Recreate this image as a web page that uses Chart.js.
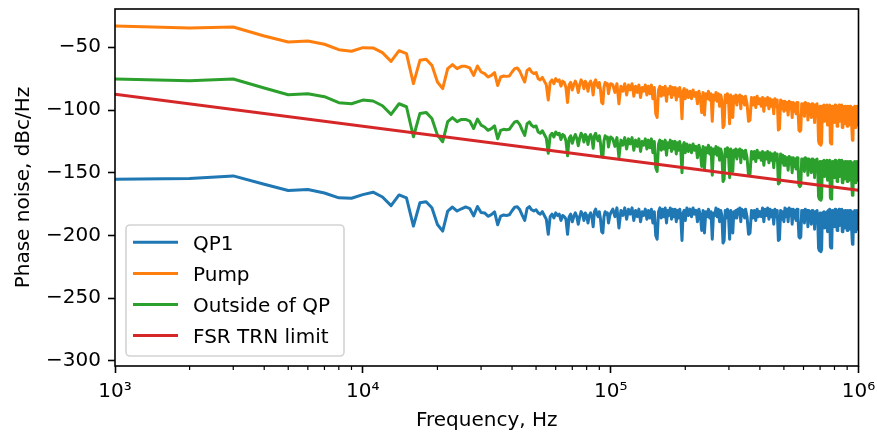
<!DOCTYPE html>
<html>
<head>
<meta charset="utf-8">
<script src="https://cdn.jsdelivr.net/npm/chart.js@4"></script>
<style>
  html, body { margin: 0; padding: 0; background: #fff; }
</style>
</head>
<body>
<canvas id="myChart" width="877" height="437"></canvas>
<script>
const range = (a, b, step) => {
    const out = [];
    for (let v = a; v <= b; v += step) out.push(v);
    return out;
};

// frequency grid, Hz: 1 kHz steps up to 100 kHz, coarser above
const freqs = [
    ...range(1000, 100000, 1000),
    ...range(102000, 200000, 2000),
    ...range(203000, 350000, 3000),
    ...range(355000, 500000, 5000),
    ...range(505000, 1000000, 5000),
];

const qp1 = [
    -155.2, -154.6, -152.5, -159.2, -164.2, -163.4, -166.1, -170.0, -170.3, -167.4,
    -165.5, -169.3, -176.2, -167.7, -170.1, -192.5, -173.9, -173.1, -177.9, -191.2,
    -196.5, -180.5, -177.3, -180.5, -178.7, -177.2, -178.5, -184.4, -176.9, -181.7,
    -182.0, -184.7, -183.4, -181.2, -191.4, -184.5, -183.7, -184.0, -183.5, -180.3,
    -177.5, -177.0, -179.5, -184.0, -188.0, -178.5, -177.0, -179.5, -180.5, -179.5,
    -182, -183, -181, -184, -187, -199, -185, -183, -186, -182,
    -184, -183, -188, -184, -185, -187, -199, -185, -183, -189,
    -185, -182, -185, -191, -185, -181, -183, -188, -182, -184,
    -190, -184, -182, -185, -193, -181, -179, -183, -185, -181,
    -187, -197, -198, -185, -181, -183, -182, -190, -185, -182,
    -179, -185, -178, -194, -180, -184, -178, -187, -179, -183,
    -178, -188, -180, -185, -179, -189, -181, -184, -179, -187,
    -180, -186, -179, -190, -181, -200, -203, -181, -178, -186,
    -179, -185, -178, -190, -180, -184, -178, -187, -179, -185,
    -179, -189, -180, -186, -179, -187, -204, -182, -180, -188,
    -178, -184, -179, -185, -178, -183, -180, -189, -179, -184,
    -196, -180, -198, -181, -185, -179, -186, -181, -203, -182,
    -184, -178, -185, -179, -189, -180, -184, -206, -204, -180,
    -186, -179, -185, -203, -180, -187, -198, -181, -186, -180,
    -186, -179, -183, -178, -189, -179, -184, -180, -186, -179,
    -185, -199, -198, -180, -186, -180, -188, -179, -185, -181,
    -185, -178, -189, -179, -184, -178, -187, -179, -185, -180,
    -191, -179, -185, -180, -204, -203, -180, -187, -181, -189,
    -178, -185, -179, -189, -178, -184, -179, -191, -179, -186,
    -180, -188, -179, -185, -201, -202, -201, -180, -186, -180,
    -190, -179, -185, -180, -193, -180, -186, -181, -191, -180,
    -187, -181, -195, -181, -188, -180, -189, -210, -212, -182,
    -213, -211, -182, -188, -181, -194, -182, -189, -181, -197,
    -180, -187, -179, -209, -210, -208, -180, -186, -180, -193,
    -179, -187, -180, -196, -180, -188, -179, -192, -180, -187,
    -179, -197, -180, -188, -181, -194, -180, -189, -181, -196,
    -180, -188, -181, -195, -180, -189, -181, -198, -207, -206,
    -181, -190, -180, -197, -181, -189, -180, -195, -181, -191,
];

const pump = [
    -33.0, -34.6, -33.8, -41.0, -45.8, -45.0, -47.6, -51.9, -53.2, -50.3,
    -50.5, -54.3, -61.2, -52.7, -55.1, -79.0, -60.4, -59.6, -64.4, -77.7,
    -83.0, -67.0, -63.8, -67.0, -65.2, -65.2, -66.5, -72.4, -64.9, -69.7,
    -71.0, -73.7, -72.4, -70.2, -80.4, -73.7, -72.9, -73.2, -72.9, -69.7,
    -67.0, -66.5, -69.1, -73.7, -77.7, -68.4, -67.0, -69.7, -71.0, -70.2,
    -75, -76, -74, -77, -80, -92, -78, -76, -79, -75,
    -77, -76, -81, -77, -78, -82, -94, -80, -78, -84,
    -80, -77, -80, -86, -80, -76, -78, -83, -77, -79,
    -85, -79, -77, -80, -88, -78, -76, -80, -82, -78,
    -84, -94, -95, -82, -78, -80, -79, -87, -82, -79,
    -80, -86, -79, -95, -81, -85, -79, -88, -80, -84,
    -79, -89, -81, -86, -80, -90, -82, -85, -80, -88,
    -81, -87, -80, -91, -82, -103, -106, -84, -81, -89,
    -82, -88, -81, -93, -83, -87, -81, -90, -82, -88,
    -82, -92, -83, -89, -82, -90, -107, -85, -83, -91,
    -84, -90, -85, -91, -84, -89, -86, -95, -85, -90,
    -102, -86, -104, -87, -91, -85, -92, -87, -109, -88,
    -92, -86, -93, -87, -97, -88, -92, -114, -112, -88,
    -94, -87, -93, -111, -88, -95, -106, -89, -94, -88,
    -96, -89, -93, -88, -99, -89, -94, -90, -96, -89,
    -95, -109, -108, -90, -96, -90, -98, -89, -95, -91,
    -97, -90, -101, -91, -96, -90, -99, -91, -97, -92,
    -103, -91, -97, -92, -116, -115, -92, -99, -93, -101,
    -93, -100, -94, -104, -93, -99, -94, -106, -94, -101,
    -95, -103, -94, -100, -116, -117, -116, -95, -101, -95,
    -105, -94, -100, -95, -108, -95, -101, -96, -106, -95,
    -102, -96, -110, -96, -103, -95, -104, -125, -127, -97,
    -128, -126, -97, -103, -96, -109, -97, -104, -96, -112,
    -97, -104, -96, -126, -127, -125, -97, -103, -97, -110,
    -96, -104, -97, -113, -97, -105, -96, -109, -97, -104,
    -96, -114, -97, -105, -98, -111, -97, -106, -98, -113,
    -97, -105, -98, -112, -97, -106, -98, -115, -124, -123,
    -98, -107, -97, -114, -98, -106, -97, -112, -98, -108,
];

const outside = [
    -75.3, -76.6, -75.3, -82.5, -87.8, -87.0, -89.4, -94.2, -95.0, -92.1,
    -92.8, -96.6, -103.5, -95.0, -97.4, -121.3, -102.7, -101.9, -106.7, -120.0,
    -125.3, -109.3, -106.1, -109.3, -107.5, -107.5, -108.8, -114.7, -107.2, -112.0,
    -113.5, -116.2, -114.9, -112.7, -122.9, -116.2, -115.4, -115.7, -115.4, -112.2,
    -109.5, -109.0, -111.6, -116.2, -120.2, -110.9, -109.5, -112.2, -113.5, -112.7,
    -117.5, -118.5, -116.5, -119.5, -122.5, -134.5, -120.5, -118.5, -121.5, -117.5,
    -119.5, -118.5, -123.5, -119.5, -120.5, -124.5, -136.5, -122.5, -120.5, -126.5,
    -122.5, -119.5, -122.5, -128.5, -122.5, -118.5, -120.5, -125.5, -119.5, -121.5,
    -127.5, -121.5, -119.5, -122.5, -130.5, -120.5, -118.5, -122.5, -124.5, -120.5,
    -126.5, -136.5, -137.5, -124.5, -120.5, -122.5, -121.5, -129.5, -124.5, -121.5,
    -123, -129, -122, -138, -124, -128, -122, -131, -123, -127,
    -122, -132, -124, -129, -123, -133, -125, -128, -123, -131,
    -124, -130, -123, -134, -125, -146, -149, -127, -124, -132,
    -125, -131, -124, -136, -126, -130, -124, -133, -125, -131,
    -125, -135, -126, -132, -125, -133, -150, -128, -126, -134,
    -127, -133, -128, -134, -127, -132, -129, -138, -128, -133,
    -145, -129, -147, -130, -134, -128, -135, -130, -152, -131,
    -135, -129, -136, -130, -140, -131, -135, -157, -155, -131,
    -137, -130, -136, -154, -131, -138, -149, -132, -137, -131,
    -139, -132, -136, -131, -142, -132, -137, -133, -139, -132,
    -138, -152, -151, -133, -139, -133, -141, -132, -138, -134,
    -140, -133, -144, -134, -139, -133, -142, -134, -140, -135,
    -146, -134, -140, -135, -159, -158, -135, -142, -136, -144,
    -137, -144, -138, -148, -137, -143, -138, -150, -138, -145,
    -139, -147, -138, -144, -160, -161, -160, -139, -145, -139,
    -149, -138, -144, -139, -152, -139, -145, -140, -150, -139,
    -146, -140, -154, -140, -147, -139, -148, -169, -171, -141,
    -172, -170, -141, -147, -140, -153, -141, -148, -140, -156,
    -141, -148, -140, -170, -171, -169, -141, -147, -141, -154,
    -140, -148, -141, -157, -141, -149, -140, -153, -141, -148,
    -140, -158, -141, -149, -142, -155, -141, -150, -142, -157,
    -141, -149, -142, -156, -141, -150, -142, -159, -168, -167,
    -142, -151, -141, -158, -142, -150, -141, -156, -142, -152,
];

const fsrFreqs = [1e3, 1e6];
const fsrLimit = [-87.5, -164.0];

const xMajor = [1e3, 1e4, 1e5, 1e6];
const xTickLabels = ['10\u00b3', '10\u2074', '10\u2075', '10\u2076'];
const yTicks = [-300, -250, -200, -150, -100, -50];

const xMinor = [];
[1e3, 1e4, 1e5].forEach(d => { for (let m = 2; m <= 9; m++) xMinor.push(m * d); });

const toPoints = (xs, ys) => xs.map((x, i) => ({ x: x, y: ys[i] }));

Chart.defaults.font.family = "'DejaVu Sans', sans-serif";
Chart.defaults.font.size = 20;
Chart.defaults.color = '#000';

// frame, minor ticks and the legend box inside the axes
const axesExtras = {
    id: 'axesExtras',
    afterDraw(chart) {
        const { ctx, chartArea: a } = chart;
        const x = chart.scales.x;
        ctx.save();
        ctx.strokeStyle = '#000';
        ctx.lineWidth = 1.2;
        ctx.beginPath();
        xMinor.forEach(v => {
            const px = x.getPixelForValue(v);
            ctx.moveTo(px, a.bottom);
            ctx.lineTo(px, a.bottom + 4);
        });
        ctx.stroke();

        ctx.lineWidth = 1.6;
        ctx.strokeRect(a.left, a.top, a.right - a.left, a.bottom - a.top);

        const lx = a.left + 11, ly = a.bottom - 141;
        ctx.beginPath();
        ctx.roundRect(lx, ly, 218, 131, 4);
        ctx.fillStyle = 'rgba(255,255,255,0.8)';
        ctx.fill();
        ctx.strokeStyle = '#d3d3d3';
        ctx.lineWidth = 1.6;
        ctx.stroke();

        ctx.font = "20px 'DejaVu Sans'";
        ctx.textBaseline = 'alphabetic';
        ctx.fillStyle = '#000';
        chart.data.datasets.forEach((ds, i) => {
            const yy = ly + 17.3 + i * 31.1;
            ctx.strokeStyle = ds.borderColor;
            ctx.lineWidth = 3;
            ctx.beginPath();
            ctx.moveTo(lx + 7, yy);
            ctx.lineTo(lx + 52, yy);
            ctx.stroke();
            ctx.fillText(ds.label, lx + 67, yy + 7.3);
        });
        ctx.restore();
    }
};

new Chart(document.getElementById('myChart'), {
    type: 'line',
    data: {
        datasets: [
            { label: 'QP1', data: toPoints(freqs, qp1), borderColor: '#1f77b4', order: 3 },
            { label: 'Pump', data: toPoints(freqs, pump), borderColor: '#ff7f0e', order: 2 },
            { label: 'Outside of QP', data: toPoints(freqs, outside), borderColor: '#2ca02c', order: 1 },
            { label: 'FSR TRN limit', data: toPoints(fsrFreqs, fsrLimit), borderColor: '#d62728', order: 0 },
        ]
    },
    options: {
        responsive: false,
        animation: false,
        devicePixelRatio: 1,
        layout: { padding: { top: 9, right: 18.5, left: 0, bottom: 0 } },
        elements: {
            point: { radius: 0 },
            line: { borderWidth: 3, tension: 0, borderCapStyle: 'butt', borderJoinStyle: 'round' }
        },
        plugins: {
            legend: { display: false },
            tooltip: { enabled: false }
        },
        scales: {
            x: {
                type: 'logarithmic',
                min: 1e3,
                max: 1e6,
                afterBuildTicks: s => { s.ticks = xMajor.map(v => ({ value: v, major: true })); },
                afterFit: s => {
                    s.height = 71;
                    s.paddingLeft = 0;
                    s.paddingRight = 0;
                },
                ticks: {
                    autoSkip: false,
                    maxRotation: 0,
                    padding: 7,
                    color: '#000',
                    callback: v => {
                        const i = xMajor.indexOf(v);
                        return i >= 0 ? xTickLabels[i] : '';
                    }
                },
                grid: { drawOnChartArea: false, tickLength: 7, tickWidth: 1.6, tickColor: '#000' },
                border: { display: false },
                title: { display: true, text: 'Frequency, Hz', color: '#000', padding: { top: 0, bottom: 4 } }
            },
            y: {
                min: -304,
                max: -19.5,
                afterBuildTicks: s => { s.ticks = yTicks.map(v => ({ value: v })); },
                afterFit: s => {
                    s.width = 115;
                    s.paddingTop = 0;
                    s.paddingBottom = 0;
                },
                ticks: {
                    autoSkip: false,
                    padding: 7,
                    color: '#000',
                    callback: v => String(v).replace('-', '\u2212')
                },
                grid: { drawOnChartArea: false, tickLength: 7, tickWidth: 1.6, tickColor: '#000' },
                border: { display: false },
                title: { display: true, text: 'Phase noise, dBc/Hz', color: '#000', padding: { top: 12, bottom: 0 } }
            }
        }
    },
    plugins: [axesExtras]
});
</script>
</body>
</html>
